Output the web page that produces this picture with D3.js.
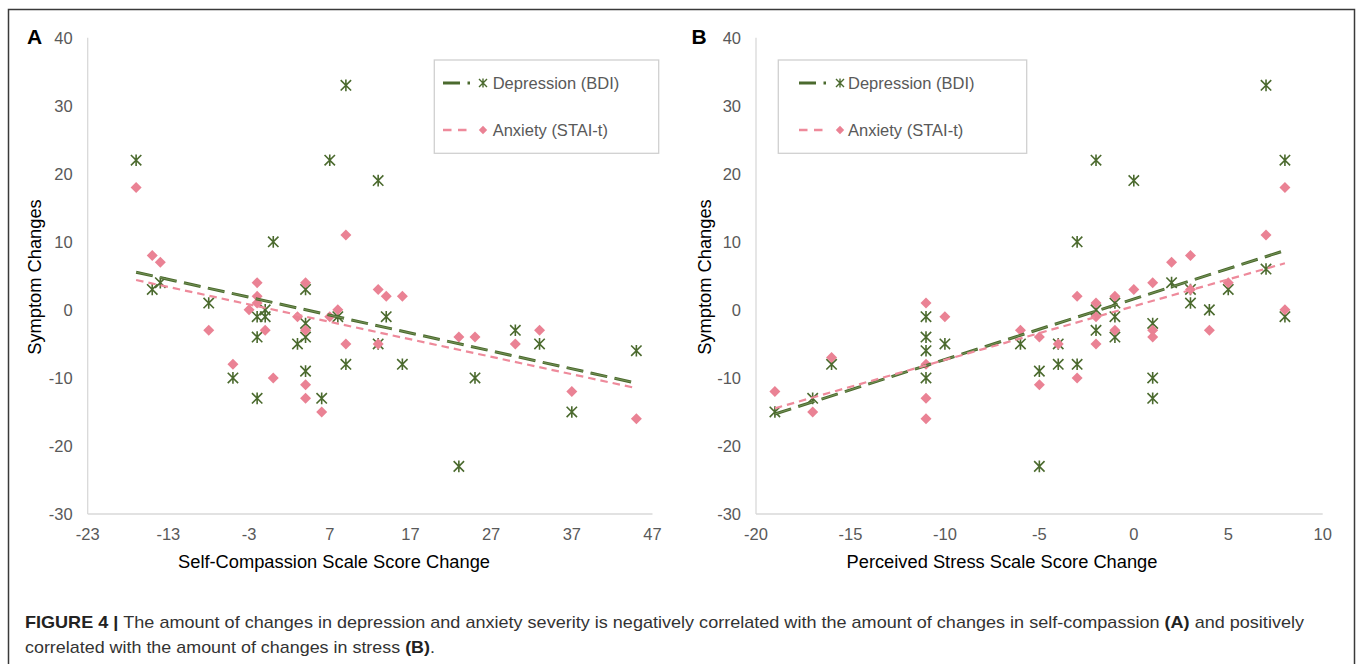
<!DOCTYPE html>
<html lang="en">
    <head>
        <meta charset="utf-8">
        <title>Figure 4</title>
        <script type="text/javascript" src="https://d3js.org/d3.v7.min.js"></script>
        <style type="text/css">
          body {
              margin: 0;
              background: white;
          }
          text {
              font-family: "Liberation Sans", Arial, sans-serif;
          }
          .tick-label {
              fill: #595959;
              font-size: 16.5px;
          }
          .axis-title {
              fill: black;
              font-size: 18.3px;
          }
          .legend text {
              fill: #595959;
              font-size: 16.5px;
          }
          .caption {
              fill: #333333;
              font-size: 17px;
          }
        </style>
    </head>
    <body>
        <script type="text/javascript">
          var w = 1357;
          var h = 664;

          // tick labels
          var yTicks = [-30, -20, -10, 0, 10, 20, 30, 40];
          var xTicksA = [-23, -13, -3, 7, 17, 27, 37, 47];
          var xTicksB = [-20, -15, -10, -5, 0, 5, 10];
          var seriesNames = ["Depression (BDI)", "Anxiety (STAI-t)"];

          // Panel A: self-compassion change vs symptom change
          var depA_x = [-17, 7, 9, 13, 0, -15, -14, -8, -1, -2, -1, -2, -5, -2, 4, 4, 4, 3, 4, 6, 8, 9, 13, 14, 16, 25, 30, 33, 37, 45, 23];
          var depA_y = [22, 22, 33, 19, 10, 3, 4, 1, 0, -1, -1, -4, -10, -13, 3, -2, -4, -5, -9, -13, -1, -8, -5, -1, -8, -10, -3, -5, -15, -6, -23];
          var anxA_x = [-17, -15, -14, -8, -2, -2, -2, -3, -1, -5, 0, 4, 3, 4, 4, 4, 6, 8, 7, 9, 9, 13, 13, 14, 16, 23, 25, 30, 33, 37, 45];
          var anxA_y = [18, 8, 7, -3, 4, 2, 1, 0, -3, -8, -10, 4, -1, -3, -11, -13, -15, 0, -1, 11, -5, 3, -5, 2, 2, -4, -4, -5, -3, -12, -16];

          // Panel B: perceived stress change vs symptom change
          var depB_x = [-19, -17, -16, -11, -11, -11, -11, -10, -6, -5, 7, 8, -2, 0, -3, 7, 3, 3, 2, 5, 4, 8, -2, -2, -1, -1, -1, 1, 1, 1, -4, -4, -3, -5];
          var depB_y = [-15, -13, -8, -1, -4, -6, -10, -5, -5, -9, 33, 22, 22, 19, 10, 6, 3, 1, 4, 3, 0, -1, 0, -3, 1, -1, -4, -2, -10, -13, -5, -8, -8, -23];
          var anxB_x = [-19, -17, -16, -11, -11, -11, -11, -10, -6, -5, -5, 8, 7, 3, 2, 3, 1, 0, 5, 4, 8, -3, -2, -2, -2, -1, -1, 1, 1, -4, -3];
          var anxB_y = [-12, -15, -7, 1, -8, -13, -16, -1, -3, -4, -11, 18, 11, 8, 7, 3, 4, 3, 4, -3, 0, 2, 1, -1, -5, 2, -3, -3, -4, -5, -10];

          var green = "#4b6a2e";
          var pink = "#ea8294";

          var panels = [
            {label: "A", labelX: 27, depX: depA_x, depY: depA_y, anxX: anxA_x, anxY: anxA_y,
             xDomain: [-23, 47], xRange: [87.7, 652.5], xTicks: xTicksA,
             xTitle: "Self-Compassion Scale Score Change", xTitleX: 334, yTitleX: 35,
             legend: {x: 434.3, w: 224.4, lineX: 8.7, markX: 48.7, textX: 58.4}},
            {label: "B", labelX: 691.5, depX: depB_x, depY: depB_y, anxX: anxB_x, anxY: anxB_y,
             xDomain: [-20, 10], xRange: [756, 1322.7], xTicks: xTicksB,
             xTitle: "Perceived Stress Scale Score Change", xTitleX: 1002, yTitleX: 705,
             legend: {x: 778.3, w: 248.4, lineX: 20.7, markX: 61.7, textX: 69.7}}
          ];

          var starPath = "M-5.2,-5.2L5.2,5.2M-5.2,5.2L5.2,-5.2M0,-5.8L0,5.8";
          var diamondPath = "M0,-5.5L5.5,0L0,5.5L-5.5,0Z";

          var svg = d3.select("body").append("svg")
                      .attr("width", w)
                      .attr("height", h);

          // outer frame (bottom edge runs off the page)
          svg.append("rect")
             .attr("x", 8.5).attr("y", 9.5)
             .attr("width", 1346).attr("height", 720)
             .attr("fill", "none")
             .attr("stroke", "#3a3a3a")
             .attr("stroke-width", 1.5);

          var yScale = d3.scaleLinear().domain([-30, 40]).range([514, 37.7]);

          // least squares fit, like the Excel linear trendline
          function fit(xs, ys) {
            var mx = d3.mean(xs), my = d3.mean(ys);
            var sxy = 0, sxx = 0;
            for (var i = 0; i < xs.length; i++) {
              sxy += (xs[i] - mx) * (ys[i] - my);
              sxx += (xs[i] - mx) * (xs[i] - mx);
            }
            var b = sxy / sxx;
            var a = my - b * mx;
            var x0 = d3.min(xs), x1 = d3.max(xs);
            return [[x0, a + b * x0], [x1, a + b * x1]];
          }

          panels.forEach(function(p) {
            var xScale = d3.scaleLinear().domain(p.xDomain).range(p.xRange);
            var g = svg.append("g");
            var x0 = p.xRange[0], x1 = p.xRange[1];

            // axes lines
            g.append("line")
             .attr("x1", x0).attr("x2", x0)
             .attr("y1", yScale(40)).attr("y2", yScale(-30))
             .attr("stroke", "#d9d9d9").attr("stroke-width", 1.3);
            g.append("line")
             .attr("x1", x0).attr("x2", x1)
             .attr("y1", yScale(-30)).attr("y2", yScale(-30))
             .attr("stroke", "#d9d9d9").attr("stroke-width", 1.3);

            // y tick labels
            g.selectAll(".ytick")
             .data(yTicks)
             .enter()
             .append("text")
             .attr("class", "tick-label")
             .attr("x", x0 - 15)
             .attr("y", function(d) { return yScale(d); })
             .attr("dy", "0.36em")
             .attr("text-anchor", "end")
             .text(function(d) { return d; });

            // x tick labels
            g.selectAll(".xtick")
             .data(p.xTicks)
             .enter()
             .append("text")
             .attr("class", "tick-label")
             .attr("x", function(d) { return xScale(d); })
             .attr("y", yScale(-30) + 26)
             .attr("text-anchor", "middle")
             .text(function(d) { return d; });

            // titles
            g.append("text")
             .attr("class", "axis-title")
             .attr("x", p.xTitleX)
             .attr("y", 568)
             .attr("text-anchor", "middle")
             .text(p.xTitle);
            g.append("text")
             .attr("class", "axis-title")
             .attr("transform", "translate(" + p.yTitleX + ",277) rotate(-90)")
             .attr("dy", "0.35em")
             .attr("text-anchor", "middle")
             .text("Symptom Changes");
            g.append("text")
             .attr("x", p.labelX)
             .attr("y", 43.5)
             .attr("font-size", "21px")
             .attr("font-weight", "bold")
             .text(p.label);

            // markers
            g.selectAll(".dep")
             .data(d3.zip(p.depX, p.depY))
             .enter()
             .append("path")
             .attr("d", starPath)
             .attr("transform", function(d) { return "translate(" + xScale(d[0]) + "," + yScale(d[1]) + ")"; })
             .attr("fill", "none")
             .attr("stroke", green)
             .attr("stroke-width", 1.6);
            g.selectAll(".anx")
             .data(d3.zip(p.anxX, p.anxY))
             .enter()
             .append("path")
             .attr("d", diamondPath)
             .attr("transform", function(d) { return "translate(" + xScale(d[0]) + "," + yScale(d[1]) + ")"; })
             .attr("fill", pink);

            // trend lines
            var line = d3.line()
                         .x(function(d) { return xScale(d[0]); })
                         .y(function(d) { return yScale(d[1]); });
            var depFit = fit(p.depX, p.depY);
            g.append("path")
             .attr("d", line(depFit))
             .attr("fill", "none")
             .attr("stroke", green)
             .attr("stroke-width", 3)
             .attr("stroke-dasharray", "17,7.5");
            g.append("path")
             .attr("d", line(depFit))
             .attr("fill", "none")
             .attr("stroke", "#7f9c62")
             .attr("stroke-width", 0.8)
             .attr("stroke-dasharray", "17,7.5");
            g.append("path")
             .attr("d", line(fit(p.anxX, p.anxY)))
             .attr("fill", "none")
             .attr("stroke", "#ee8a9b")
             .attr("stroke-width", 2.2)
             .attr("stroke-dasharray", "7.5,5");

            // legend
            var L = p.legend;
            var leg = g.append("g").attr("class", "legend");
            leg.append("rect")
               .attr("x", L.x).attr("y", 60)
               .attr("width", L.w).attr("height", 93.3)
               .attr("fill", "white")
               .attr("stroke", "#d0d0d0")
               .attr("stroke-width", 1.3);
            var rows = [83, 130];
            leg.append("line")
               .attr("x1", L.x + L.lineX).attr("x2", L.x + L.lineX + 27)
               .attr("y1", rows[0]).attr("y2", rows[0])
               .attr("stroke", green).attr("stroke-width", 3)
               .attr("stroke-dasharray", "17,7.5");
            leg.append("path")
               .attr("d", "M-4,-4L4,4M-4,4L4,-4M0,-4.5L0,4.5")
               .attr("transform", "translate(" + (L.x + L.markX) + "," + rows[0] + ")")
               .attr("fill", "none").attr("stroke", green).attr("stroke-width", 1.4);
            leg.append("line")
               .attr("x1", L.x + L.lineX).attr("x2", L.x + L.lineX + 24)
               .attr("y1", rows[1]).attr("y2", rows[1])
               .attr("stroke", "#ee8a9b").attr("stroke-width", 2.6)
               .attr("stroke-dasharray", "8.5,6.5");
            leg.append("path")
               .attr("d", "M0,-4.2L4.2,0L0,4.2L-4.2,0Z")
               .attr("transform", "translate(" + (L.x + L.markX) + "," + rows[1] + ")")
               .attr("fill", pink);
            leg.selectAll(".lt")
               .data(seriesNames)
               .enter()
               .append("text")
               .attr("x", L.x + L.textX)
               .attr("y", function(d, i) { return rows[i]; })
               .attr("dy", "0.36em")
               .text(function(d) { return d; });
          });

          // caption
          var cap1 = svg.append("text")
                        .attr("class", "caption")
                        .attr("x", 25).attr("y", 627.5)
                        .attr("textLength", 1279)
                        .attr("lengthAdjust", "spacingAndGlyphs");
          cap1.append("tspan").attr("font-weight", "bold").attr("fill", "#222").text("FIGURE 4 | ");
          cap1.append("tspan").text("The amount of changes in depression and anxiety severity is negatively correlated with the amount of changes in self-compassion ");
          cap1.append("tspan").attr("font-weight", "bold").attr("fill", "#222").text("(A)");
          cap1.append("tspan").text(" and positively");

          var cap2 = svg.append("text")
                        .attr("class", "caption")
                        .attr("x", 25).attr("y", 652.5)
                        .attr("textLength", 410)
                        .attr("lengthAdjust", "spacingAndGlyphs");
          cap2.append("tspan").text("correlated with the amount of changes in stress ");
          cap2.append("tspan").attr("font-weight", "bold").attr("fill", "#222").text("(B)");
          cap2.append("tspan").text(".");
        </script>
    </body>
</html>
